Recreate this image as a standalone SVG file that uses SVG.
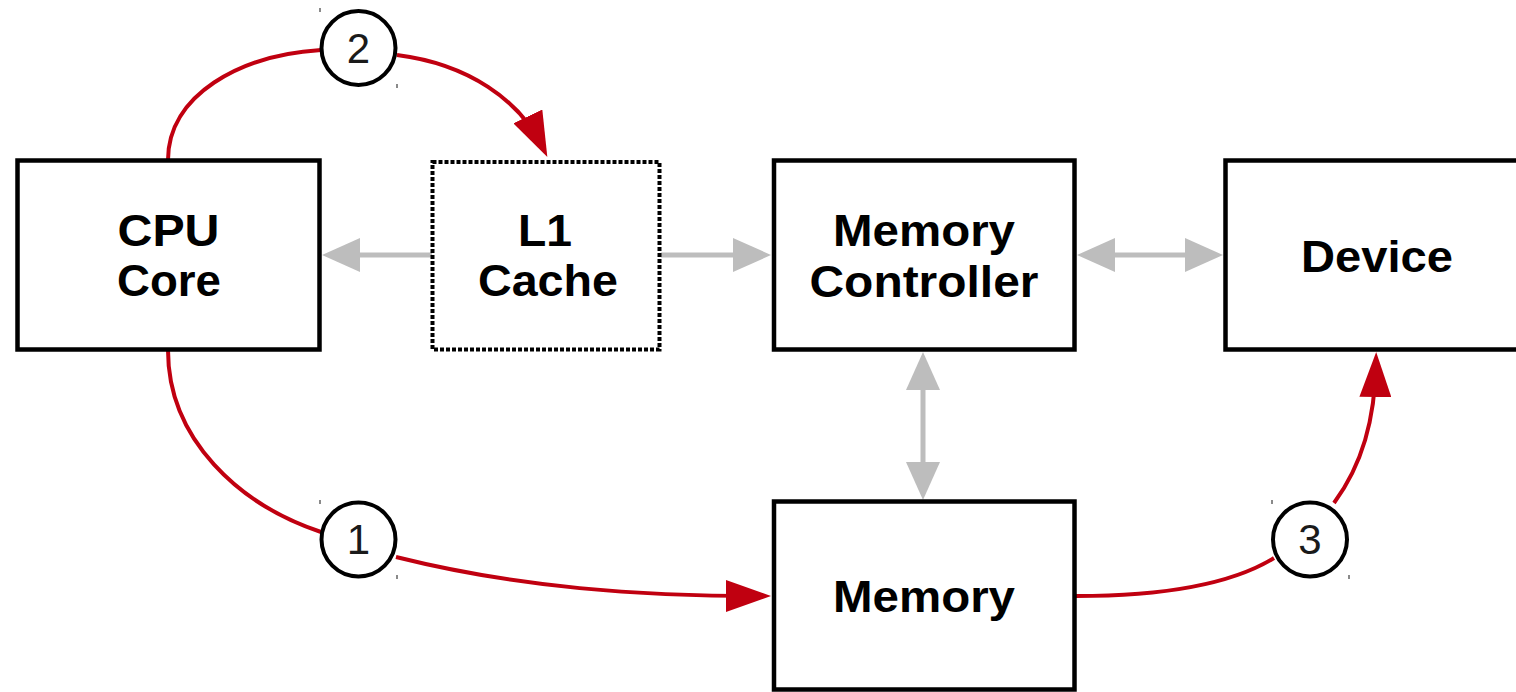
<svg xmlns="http://www.w3.org/2000/svg" width="1516" height="692" viewBox="0 0 1516 692">
  <style>
    .box { fill: #ffffff; stroke: #000000; stroke-width: 4.5; }
    .cache { fill: #ffffff; stroke: #000000; stroke-width: 4; stroke-dasharray: 4 2; }
    .label { font-family: "Liberation Sans", Arial, sans-serif; font-weight: bold; font-size: 44px; fill: #000000; text-anchor: middle; }
    .bus { fill: none; stroke: #bdbdbd; stroke-width: 5; }
    .flow { fill: none; stroke: #c00010; stroke-width: 4; }
    .step { fill: #ffffff; stroke: #000000; stroke-width: 4; }
    .num { font-family: "Liberation Sans", Arial, sans-serif; font-size: 42px; fill: #1a1a1a; text-anchor: middle; }
    .handle { fill: #8a8a8a; }
  </style>
  <defs>
    <marker id="grayHead" markerUnits="userSpaceOnUse" markerWidth="38" markerHeight="34" refX="28" refY="17" orient="auto-start-reverse" viewBox="0 0 38 34">
      <path d="M0,0 L38,17 L0,34 z" fill="#bdbdbd"/>
    </marker>
    <marker id="redHead" markerUnits="userSpaceOnUse" markerWidth="45" markerHeight="32" refX="35" refY="16" orient="auto" viewBox="0 0 45 32">
      <path d="M0,0 L45,16 L0,32 z" fill="#c00010"/>
    </marker>
  </defs>

  <!-- data paths between components -->
  <g id="connectors">
    <path class="bus" d="M432,255 L332,255" marker-end="url(#grayHead)"/>
    <path class="bus" d="M661,255 L761,255" marker-end="url(#grayHead)"/>
    <path class="bus" d="M1087,255 L1213,255" marker-start="url(#grayHead)" marker-end="url(#grayHead)"/>
    <path class="bus" d="M923,362 L923,490" marker-start="url(#grayHead)" marker-end="url(#grayHead)"/>

    <!-- step 2: core to cache -->
    <path class="flow" d="M168,160 C168,95 240,55 321,50"/>
    <path class="flow" d="M397,55 C468,64 520,100 543,148" marker-end="url(#redHead)"/>
    <!-- step 1: core to memory -->
    <path class="flow" d="M168,350 C168,440 240,505 321,532"/>
    <path class="flow" d="M396,557 C520,588 640,596 761,596" marker-end="url(#redHead)"/>
    <!-- step 3: memory to device -->
    <path class="flow" d="M1076,596 C1160,596 1230,585 1274,558"/>
    <path class="flow" d="M1334,503 C1362,465 1375,420 1376,362" marker-end="url(#redHead)"/>
  </g>

  <g id="cpu-core">
    <rect class="box" x="17.5" y="160.5" width="302" height="189"/>
    <text class="label" x="168.5" y="246" textLength="102" lengthAdjust="spacingAndGlyphs">CPU</text>
    <text class="label" x="169" y="296" textLength="104" lengthAdjust="spacingAndGlyphs">Core</text>
  </g>

  <g id="l1-cache">
    <rect class="cache" x="432.5" y="162" width="227" height="187.5"/>
    <text class="label" x="545" y="246" textLength="54" lengthAdjust="spacingAndGlyphs">L1</text>
    <text class="label" x="548" y="296" textLength="140" lengthAdjust="spacingAndGlyphs">Cache</text>
  </g>

  <g id="memory-controller">
    <rect class="box" x="774" y="160.5" width="300.5" height="189"/>
    <text class="label" x="924" y="246" textLength="182" lengthAdjust="spacingAndGlyphs">Memory</text>
    <text class="label" x="924" y="297" textLength="229" lengthAdjust="spacingAndGlyphs">Controller</text>
  </g>

  <g id="device">
    <rect class="box" x="1225.5" y="160.5" width="302" height="189"/>
    <text class="label" x="1377" y="272" textLength="152" lengthAdjust="spacingAndGlyphs">Device</text>
  </g>

  <g id="memory">
    <rect class="box" x="774" y="501.5" width="300.5" height="188"/>
    <text class="label" x="924" y="612" textLength="182" lengthAdjust="spacingAndGlyphs">Memory</text>
  </g>

  <g id="step-1">
    <circle class="step" cx="358.5" cy="539.5" r="37"/>
    <text class="num" x="358.5" y="554">1</text>
    <rect class="handle" x="319" y="500" width="2" height="4"/>
    <rect class="handle" x="396" y="575" width="2" height="4"/>
  </g>

  <g id="step-2">
    <circle class="step" cx="358.5" cy="48" r="37"/>
    <text class="num" x="358.5" y="63">2</text>
    <rect class="handle" x="319" y="8" width="2" height="4"/>
    <rect class="handle" x="396" y="84" width="2" height="4"/>
  </g>

  <g id="step-3">
    <circle class="step" cx="1310" cy="539.5" r="37"/>
    <text class="num" x="1310" y="554">3</text>
    <rect class="handle" x="1271" y="500" width="2" height="4"/>
    <rect class="handle" x="1348" y="575" width="2" height="4"/>
  </g>
</svg>
